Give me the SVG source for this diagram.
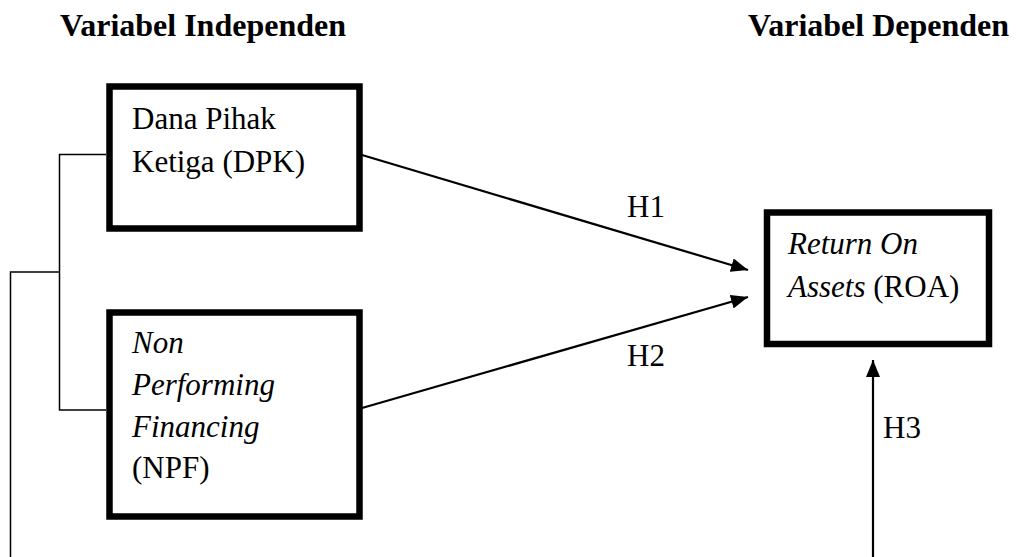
<svg xmlns="http://www.w3.org/2000/svg" width="1019" height="557" viewBox="0 0 1019 557">
<style>
.box{fill:#fff;stroke:#000;stroke-width:6.5}
.t{font-family:'Liberation Serif','Times New Roman','DejaVu Serif',serif;font-size:31px;fill:#000}
.h{font-family:'Liberation Serif','Times New Roman','DejaVu Serif',serif;font-size:32px;font-weight:bold;fill:#000}
.i{font-style:italic}
.thin{fill:none;stroke:#000;stroke-width:1.5}
.arr{fill:none;stroke:#000;stroke-width:2.2;marker-end:url(#ah)}
</style>
<defs>
<marker id="ah" markerUnits="userSpaceOnUse" markerWidth="18" markerHeight="14" refX="17" refY="7" orient="auto">
<path d="M0,0 L17,7 L0,14 Z" fill="#000"/>
</marker>
</defs>
<rect width="1019" height="557" fill="#fff"/>
<g id="headers">
<text class="h" x="60" y="36">Variabel Independen</text>
<text class="h" x="748" y="36">Variabel Dependen</text>
</g>
<g id="connectors">
<polyline class="thin" points="106,154.5 59.5,154.5 59.5,410 106,410"/>
<polyline class="thin" points="59.5,272 10.5,272 10.5,557"/>
<line class="arr" x1="362" y1="155" x2="748" y2="270"/>
<line class="arr" x1="362" y1="408" x2="748" y2="297"/>
<line class="arr" x1="873" y1="557" x2="873" y2="360"/>
<text class="t" x="627" y="217">H1</text>
<text class="t" x="627" y="366">H2</text>
<text class="t" x="883" y="438">H3</text>
</g>
<g id="dpk">
<rect class="box" x="109.5" y="86.5" width="250" height="142"/>
<text class="t" x="132" y="129">Dana Pihak</text>
<text class="t" x="132" y="172">Ketiga (DPK)</text>
</g>
<g id="npf">
<rect class="box" x="109.5" y="312.5" width="250" height="204"/>
<text class="t i" x="132" y="353">Non</text>
<text class="t i" x="132" y="395">Performing</text>
<text class="t i" x="132" y="437">Financing</text>
<text class="t" x="132" y="478">(NPF)</text>
</g>
<g id="roa">
<rect class="box" x="767" y="212.5" width="222" height="131.5"/>
<text class="t" x="788" y="254"><tspan class="i">Return On</tspan></text>
<text class="t" x="788" y="297"><tspan class="i">Assets</tspan> (ROA)</text>
</g>
</svg>
